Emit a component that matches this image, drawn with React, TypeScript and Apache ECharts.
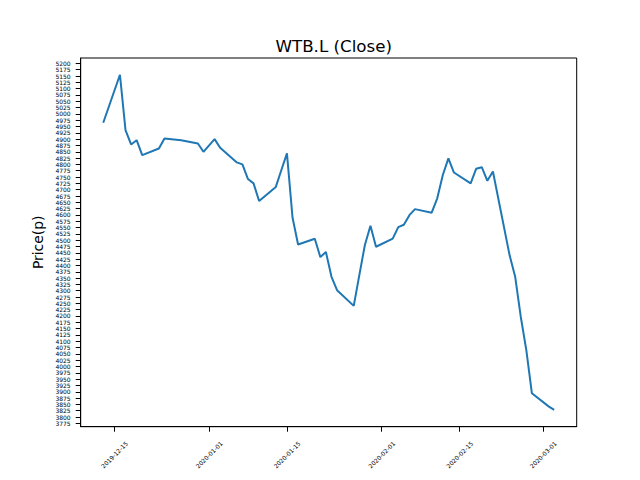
import React, { useEffect, useRef } from "react";
import * as echarts from "echarts";

const dates: string[] = [
  "2019-12-13", "2019-12-16", "2019-12-17", "2019-12-18", "2019-12-19", "2019-12-20",
  "2019-12-23", "2019-12-24", "2019-12-27", "2019-12-30", "2019-12-31",
  "2020-01-02", "2020-01-03", "2020-01-06", "2020-01-07", "2020-01-08", "2020-01-09", "2020-01-10",
  "2020-01-13", "2020-01-14", "2020-01-15", "2020-01-16", "2020-01-17",
  "2020-01-20", "2020-01-21", "2020-01-22", "2020-01-23", "2020-01-24",
  "2020-01-27", "2020-01-28", "2020-01-29", "2020-01-30", "2020-01-31",
  "2020-02-03", "2020-02-04", "2020-02-05", "2020-02-06", "2020-02-07",
  "2020-02-10", "2020-02-11", "2020-02-12", "2020-02-13", "2020-02-14",
  "2020-02-17", "2020-02-18", "2020-02-19", "2020-02-20", "2020-02-21",
  "2020-02-24", "2020-02-25", "2020-02-26", "2020-02-27", "2020-02-28",
  "2020-03-02", "2020-03-03",
];

const closes: number[] = [
  4965, 5155, 4936, 4879, 4896, 4837,
  4863, 4903, 4896, 4883, 4850,
  4900, 4866, 4808, 4800, 4742, 4725, 4655,
  4711, 4778, 4844, 4590, 4483,
  4506, 4433, 4453, 4355, 4302,
  4240, 4362, 4481, 4557, 4474,
  4506, 4552, 4561, 4599, 4623,
  4609, 4666, 4758, 4824, 4768,
  4725, 4783, 4789, 4735, 4772,
  4440, 4355, 4197, 4065, 3894,
  3842, 3828,
];

const xTickDates: string[] = [
  "2019-12-15", "2020-01-01", "2020-01-15", "2020-02-01", "2020-02-15", "2020-03-01",
];

const yTickStart = 3775;
const yTickEnd = 5200;
const yTickStep = 25;

const title = "WTB.L (Close)";
const yName = "Price(p)";

function parseLocal(s: string): number {
  const [y, m, d] = s.split("-").map(Number);
  return new Date(y, m - 1, d).getTime();
}

function pad(n: number): string {
  return n < 10 ? "0" + n : String(n);
}

function fmt(v: number): string {
  const d = new Date(v);
  return `${d.getFullYear()}-${pad(d.getMonth() + 1)}-${pad(d.getDate())}`;
}

export default function App() {
  const ref = useRef<HTMLDivElement>(null);

  useEffect(() => {
    if (!ref.current) return;
    const chart = echarts.init(ref.current, undefined, { renderer: "svg" });

    const xs = dates.map(parseLocal);
    const xMinData = Math.min(...xs);
    const xMaxData = Math.max(...xs);
    const xr = xMaxData - xMinData;
    const yMinData = Math.min(...closes);
    const yMaxData = Math.max(...closes);
    const yr = yMaxData - yMinData;

    const yTicks: number[] = [];
    for (let v = yTickStart; v <= yTickEnd; v += yTickStep) yTicks.push(v);
    const xTicks = xTickDates.map(parseLocal);

    const font = "DejaVu Sans";

    chart.setOption({
      animation: false,
      backgroundColor: "#ffffff",
      title: {
        text: title,
        left: 328.7,
        textAlign: "center",
        top: 32,
        textStyle: { fontFamily: font, fontSize: 16.7, fontWeight: "normal", color: "#000" },
      },
      grid: {
        left: 80.7,
        right: 63.3,
        top: 58,
        bottom: 53.3,
        show: true,
        borderColor: "#000",
        borderWidth: 1,
        backgroundColor: "transparent",
      },
      xAxis: {
        type: "value",
        min: xMinData - 0.05 * xr,
        max: xMaxData + 0.05 * xr,
        scale: true,
        splitLine: { show: false },
        axisLine: { show: true, lineStyle: { color: "#000", width: 1 } },
        axisTick: {
          show: true,
          customValues: xTicks,
          length: 5,
          lineStyle: { color: "#000", width: 1 },
        },
        axisLabel: {
          customValues: xTicks,
          showMinLabel: true,
          showMaxLabel: true,
          rotate: 45,
          align: "center",
          verticalAlign: "middle",
          margin: 28,
          fontFamily: font,
          fontSize: 6,
          color: "#000",
          formatter: (v: number) => fmt(v),
        },
      },
      yAxis: {
        type: "value",
        min: yMinData - 0.05 * yr,
        max: yMaxData + 0.05 * yr,
        name: yName,
        nameLocation: "middle",
        nameRotate: 90,
        nameGap: 31,
        nameTextStyle: { fontFamily: font, fontSize: 13.9, color: "#000" },
        splitLine: { show: false },
        axisLine: { show: true, lineStyle: { color: "#000", width: 1 } },
        axisTick: {
          show: true,
          customValues: yTicks,
          length: 5,
          lineStyle: { color: "#000", width: 1 },
        },
        axisLabel: {
          customValues: yTicks,
          showMinLabel: true,
          showMaxLabel: true,
          margin: 10,
          fontFamily: font,
          fontSize: 6,
          lineHeight: 6,
          color: "#000",
          formatter: (v: number) => String(v),
        },
      },
      series: [
        {
          type: "line",
          data: dates.map((d, i) => [parseLocal(d), closes[i]]),
          showSymbol: false,
          symbol: "none",
          lineStyle: { color: "#1f77b4", width: 2 },
        },
      ],
    });

    return () => chart.dispose();
  }, []);

  return (
    <div
      ref={ref}
      style={{ position: "fixed", left: 0, top: 0, width: 640, height: 480 }}
    />
  );
}
